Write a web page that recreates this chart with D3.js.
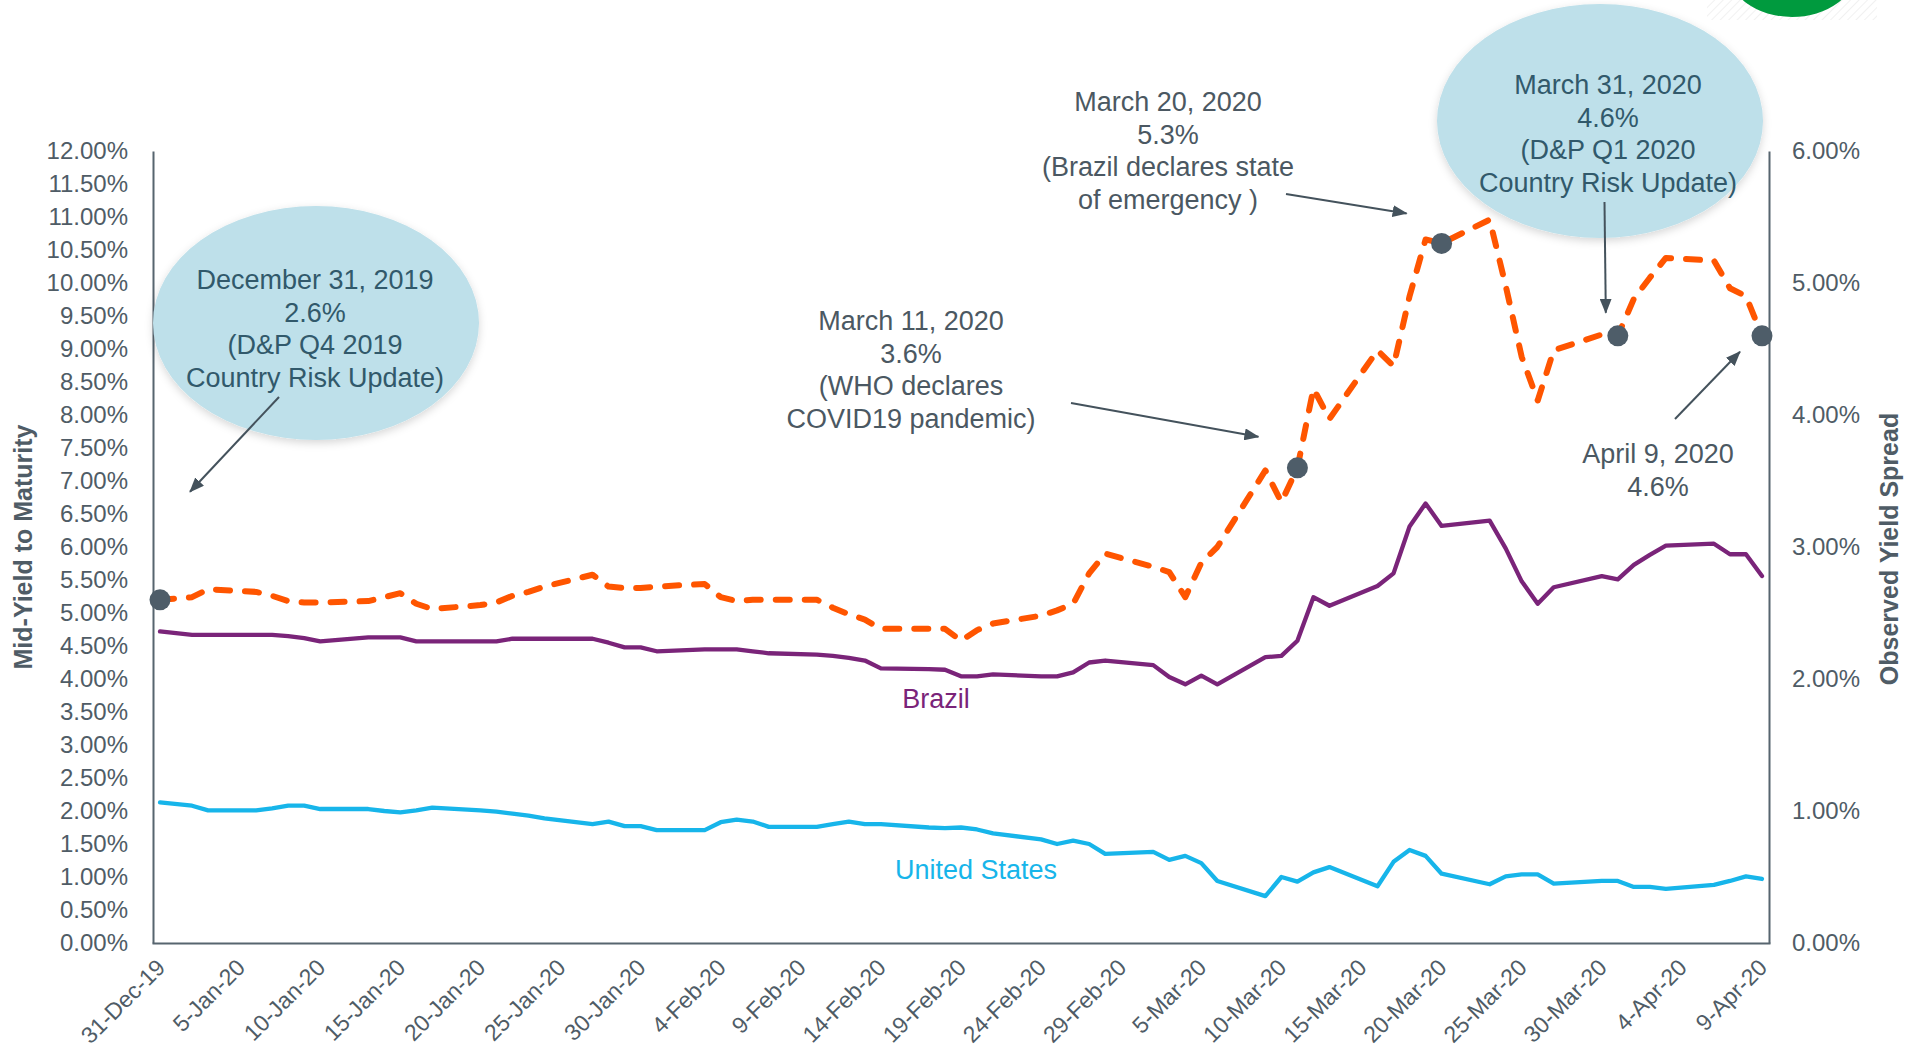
<!DOCTYPE html>
<html>
<head>
<meta charset="utf-8">
<script src="https://cdn.jsdelivr.net/npm/d3@7"></script>
<style>
  body { margin: 0; background: #ffffff; }
  svg { display: block; font-family: "Liberation Sans", Arial, sans-serif; }
</style>
</head>
<body>
<svg id="chart" width="1911" height="1050"></svg>
<script>
// ---- data -------------------------------------------------------------
const tradeDates = [
  "2019-12-31",
  "2020-01-02","2020-01-03",
  "2020-01-06","2020-01-07","2020-01-08","2020-01-09","2020-01-10",
  "2020-01-13","2020-01-14","2020-01-15","2020-01-16","2020-01-17",
  "2020-01-20","2020-01-21","2020-01-22","2020-01-23","2020-01-24",
  "2020-01-27","2020-01-28","2020-01-29","2020-01-30","2020-01-31",
  "2020-02-03","2020-02-04","2020-02-05","2020-02-06","2020-02-07",
  "2020-02-10","2020-02-11","2020-02-12","2020-02-13","2020-02-14",
  "2020-02-17","2020-02-18","2020-02-19","2020-02-20","2020-02-21",
  "2020-02-24","2020-02-25","2020-02-26","2020-02-27","2020-02-28",
  "2020-03-02","2020-03-03","2020-03-04","2020-03-05","2020-03-06",
  "2020-03-09","2020-03-10","2020-03-11","2020-03-12","2020-03-13",
  "2020-03-16","2020-03-17","2020-03-18","2020-03-19","2020-03-20",
  "2020-03-23","2020-03-24","2020-03-25","2020-03-26","2020-03-27",
  "2020-03-30","2020-03-31","2020-04-01","2020-04-02","2020-04-03",
  "2020-04-06","2020-04-07","2020-04-08","2020-04-09"
];

// Brazil mid-yield to maturity (%), left axis
const brazilYield = [
  4.72,
  4.67, 4.67,
  4.67, 4.67, 4.65, 4.62, 4.57,
  4.63, 4.63, 4.63, 4.57, 4.57,
  4.57, 4.57, 4.61, 4.61, 4.61,
  4.61, 4.55, 4.48, 4.48, 4.42,
  4.45, 4.45, 4.45, 4.42, 4.39,
  4.37, 4.35, 4.32, 4.28, 4.16,
  4.15, 4.14, 4.04, 4.04, 4.07,
  4.04, 4.04, 4.10, 4.25, 4.28,
  4.21, 4.03, 3.92, 4.05, 3.92,
  4.33, 4.35, 4.58, 5.24, 5.11,
  5.41, 5.60, 6.31, 6.66, 6.32,
  6.40, 5.98, 5.48, 5.14, 5.39,
  5.56, 5.51, 5.73, 5.88, 6.02,
  6.05, 5.89, 5.89, 5.56
];

// United States mid-yield to maturity (%), left axis
const usYield = [
  2.13,
  2.08, 2.01,
  2.01, 2.04, 2.08, 2.08, 2.03,
  2.03, 2.00, 1.98, 2.01, 2.05,
  2.01, 1.99, 1.96, 1.93, 1.89,
  1.80, 1.84, 1.77, 1.77, 1.71,
  1.71, 1.83, 1.87, 1.84, 1.76,
  1.76, 1.80, 1.84, 1.80, 1.80,
  1.75, 1.74, 1.75, 1.72, 1.66,
  1.57, 1.50, 1.55, 1.50, 1.35,
  1.38, 1.26, 1.32, 1.21, 0.94,
  0.71, 1.00, 0.93, 1.07, 1.15,
  0.86, 1.23, 1.41, 1.32, 1.05,
  0.89, 1.01, 1.04, 1.04, 0.90,
  0.94, 0.94, 0.85, 0.85, 0.82,
  0.88, 0.94, 1.01, 0.97
];

// Observed yield spread (%), right axis
const observedSpread = [
  2.60,
  2.62, 2.68,
  2.66, 2.63, 2.59, 2.58, 2.58,
  2.59, 2.62, 2.65, 2.57, 2.53,
  2.56, 2.58, 2.63, 2.66, 2.70,
  2.79, 2.70, 2.69, 2.69, 2.70,
  2.72, 2.62, 2.59, 2.60, 2.60,
  2.60, 2.54, 2.49, 2.45, 2.38,
  2.38, 2.38, 2.29, 2.37, 2.42,
  2.48, 2.52, 2.57, 2.80, 2.95,
  2.85, 2.81, 2.62, 2.88, 3.00,
  3.58, 3.34, 3.60, 4.20, 3.97,
  4.49, 4.37, 4.90, 5.33, 5.30,
  5.48, 4.98, 4.44, 4.11, 4.49,
  4.61, 4.60, 4.88, 5.04, 5.19,
  5.17, 4.96, 4.90, 4.60
];

// Highlighted dates on the spread series
const markedDates = ["2019-12-31", "2020-03-11", "2020-03-20", "2020-03-31", "2020-04-09"];

// Axis ticks
const leftTicks = [0, 0.5, 1, 1.5, 2, 2.5, 3, 3.5, 4, 4.5, 5, 5.5, 6, 6.5, 7, 7.5, 8, 8.5, 9, 9.5, 10, 10.5, 11, 11.5, 12];
const rightTicks = [0, 1, 2, 3, 4, 5, 6];
const xTickDates = [
  "2019-12-31","2020-01-05","2020-01-10","2020-01-15","2020-01-20","2020-01-25","2020-01-30",
  "2020-02-04","2020-02-09","2020-02-14","2020-02-19","2020-02-24","2020-02-29",
  "2020-03-05","2020-03-10","2020-03-15","2020-03-20","2020-03-25","2020-03-30",
  "2020-04-04","2020-04-09"
];

// Callout texts
const bubbleNotes = [
  { date: "2019-12-31", lines: ["December 31, 2019", "2.6%", "(D&P Q4 2019", "Country Risk Update)"] },
  { date: "2020-03-31", lines: ["March 31, 2020", "4.6%", "(D&P Q1 2020", "Country Risk Update)"] }
];
const plainNotes = [
  { date: "2020-03-20", lines: ["March 20, 2020", "5.3%", "(Brazil declares state", "of emergency )"] },
  { date: "2020-03-11", lines: ["March 11, 2020", "3.6%", "(WHO declares", "COVID19 pandemic)"] },
  { date: "2020-04-09", lines: ["April 9, 2020", "4.6%"] }
];

// ---- layout -----------------------------------------------------------
const plot = { left: 152, right: 1770, top: 151, bottom: 943 };
const col = {
  axis: "#57656f", tick: "#4f5c66", brazil: "#7a2479", us: "#17b5ea",
  spread: "#ff5500", dot: "#4e5d69", bubble: "#bee0ea", bubbleText: "#31596b",
  note: "#4b5862", arrow: "#44525c"
};
const bubbleLayout = [
  { cx: 316, cy: 323, rx: 163, ry: 117, tx: 315, ty: 289, arrowFrom: [279, 397], tipOffset: [30, -108] },
  { cx: 1600, cy: 121, rx: 163, ry: 117, tx: 1608, ty: 94, arrowFrom: [1604.5, 202], tipOffset: [-12, -23] }
];
const plainLayout = [
  { tx: 1168, ty: 111, arrowFrom: [1286, 194], tipOffset: [-35, -30] },
  { tx: 911, ty: 330, arrowFrom: [1071, 403], tipOffset: [-39, -31] },
  { tx: 1658, ty: 463, arrowFrom: [1675, 419], tipOffset: [-22, 16] }
];
const lineGap = 32.5;

// ---- scales -----------------------------------------------------------
const parse = d3.utcParse("%Y-%m-%d");
const dates = tradeDates.map(parse);
const x = d3.scaleUtc()
  .domain([d3.utcHour.offset(dates[0], -12), d3.utcHour.offset(dates[dates.length - 1], 12)])
  .range([plot.left, plot.right]);
const yL = d3.scaleLinear().domain([0, 12]).range([plot.bottom, plot.top]);
const yR = d3.scaleLinear().domain([0, 6]).range([plot.bottom, plot.top]);

const svg = d3.select("#chart");
const defs = svg.append("defs");

defs.append("filter").attr("id", "bubbleShadow")
  .attr("x", "-20%").attr("y", "-20%").attr("width", "140%").attr("height", "140%")
  .append("feDropShadow")
  .attr("dx", 0).attr("dy", 3).attr("stdDeviation", 4)
  .attr("flood-color", "#000").attr("flood-opacity", 0.16);

defs.append("marker").attr("id", "head")
  .attr("viewBox", "0 -6 15 12").attr("refX", 14).attr("refY", 0)
  .attr("markerWidth", 15).attr("markerHeight", 12)
  .attr("markerUnits", "userSpaceOnUse").attr("orient", "auto")
  .append("path").attr("d", "M0,-6L15,0L0,6Z").attr("fill", col.arrow);

const hatch = defs.append("pattern").attr("id", "hatch")
  .attr("patternUnits", "userSpaceOnUse").attr("width", 6).attr("height", 6)
  .attr("patternTransform", "rotate(45)");
hatch.append("line").attr("x1", 0).attr("y1", 0).attr("x2", 0).attr("y2", 6)
  .attr("stroke", "#ececec").attr("stroke-width", 1.5);

// corner badge
svg.append("rect").attr("x", 1707).attr("y", 0).attr("width", 170).attr("height", 20).attr("fill", "url(#hatch)");
svg.append("ellipse").attr("cx", 1792).attr("cy", -30).attr("rx", 64).attr("ry", 47).attr("fill", "#009a3e");

// ---- axes -------------------------------------------------------------
function styleAxis(g, size) {
  g.attr("font-family", "'Liberation Sans', Arial, sans-serif").attr("font-size", size || 24);
  g.select(".domain").attr("stroke", col.axis).attr("stroke-width", 2);
  g.selectAll(".tick line").remove();
  g.selectAll(".tick text").attr("fill", col.tick);
}
const pct2 = d => d3.format(".2f")(d) + "%";

svg.append("g").attr("transform", `translate(${plot.left + 1},0)`)
  .call(d3.axisLeft(yL).tickValues(leftTicks).tickFormat(pct2).tickSize(0).tickPadding(25))
  .call(styleAxis);

svg.append("g").attr("transform", `translate(${plot.right - 1},0)`)
  .call(d3.axisRight(yR).tickValues(rightTicks).tickFormat(pct2).tickSize(0).tickPadding(23))
  .call(styleAxis);

const xAxis = svg.append("g").attr("transform", `translate(0,${plot.bottom})`)
  .call(d3.axisBottom(x).tickValues(xTickDates.map(parse)).tickFormat(d3.utcFormat("%-d-%b-%y")).tickSize(0))
  .call(styleAxis, 23);
xAxis.selectAll(".tick text")
  .attr("x", 0).attr("y", 0).attr("dy", 0)
  .attr("text-anchor", "end")
  .attr("transform", "translate(6,26) rotate(-45)");

// axis titles
svg.append("text").attr("transform", "translate(32,547) rotate(-90)")
  .attr("text-anchor", "middle").attr("font-size", 25).attr("font-weight", "bold")
  .attr("fill", col.tick).text("Mid-Yield to Maturity");
svg.append("text").attr("transform", "translate(1898,549) rotate(-90)")
  .attr("text-anchor", "middle").attr("font-size", 25).attr("font-weight", "bold")
  .attr("fill", col.tick).text("Observed Yield Spread");

// ---- series -----------------------------------------------------------
const rows = dates.map((d, i) => ({ d, br: brazilYield[i], us: usYield[i], sp: observedSpread[i] }));

svg.append("path").datum(rows)
  .attr("fill", "none").attr("stroke", col.brazil).attr("stroke-width", 4.3)
  .attr("stroke-linejoin", "round").attr("stroke-linecap", "round")
  .attr("d", d3.line().x(r => x(r.d)).y(r => yL(r.br)));

svg.append("path").datum(rows)
  .attr("fill", "none").attr("stroke", col.us).attr("stroke-width", 4.3)
  .attr("stroke-linejoin", "round").attr("stroke-linecap", "round")
  .attr("d", d3.line().x(r => x(r.d)).y(r => yL(r.us)));

svg.append("path").datum(rows)
  .attr("fill", "none").attr("stroke", col.spread).attr("stroke-width", 6)
  .attr("stroke-linejoin", "round").attr("stroke-linecap", "round")
  .attr("stroke-dasharray", "14,15")
  .attr("d", d3.line().x(r => x(r.d)).y(r => yR(r.sp)));

const markedRows = markedDates.map(s => rows[tradeDates.indexOf(s)]);
svg.append("g").selectAll("circle").data(markedRows).join("circle")
  .attr("cx", r => x(r.d)).attr("cy", r => yR(r.sp)).attr("r", 10.5)
  .attr("fill", col.dot);

// series labels
svg.append("text").attr("x", 936).attr("y", 708).attr("text-anchor", "middle")
  .attr("font-size", 27).attr("fill", col.brazil).text("Brazil");
svg.append("text").attr("x", 976).attr("y", 879).attr("text-anchor", "middle")
  .attr("font-size", 27).attr("fill", col.us).text("United States");

// ---- callouts ---------------------------------------------------------
function pointFor(dateStr) {
  const r = rows[tradeDates.indexOf(dateStr)];
  return [x(r.d), yR(r.sp)];
}
function drawLines(g, lines, tx, ty, fill) {
  const t = g.append("text").attr("text-anchor", "middle").attr("font-size", 27).attr("fill", fill);
  lines.forEach((s, i) => t.append("tspan").attr("x", tx).attr("y", ty + i * lineGap).text(s));
}
function drawArrow(g, from, dateStr, off) {
  const p = pointFor(dateStr);
  g.append("line")
    .attr("x1", from[0]).attr("y1", from[1])
    .attr("x2", p[0] + off[0]).attr("y2", p[1] + off[1])
    .attr("stroke", col.arrow).attr("stroke-width", 2)
    .attr("marker-end", "url(#head)");
}

const notes = svg.append("g");
bubbleNotes.forEach((n, i) => {
  const L = bubbleLayout[i];
  notes.append("ellipse").attr("cx", L.cx).attr("cy", L.cy).attr("rx", L.rx).attr("ry", L.ry)
    .attr("fill", col.bubble).attr("filter", "url(#bubbleShadow)");
  drawLines(notes, n.lines, L.tx, L.ty, col.bubbleText);
  drawArrow(notes, L.arrowFrom, n.date, L.tipOffset);
});
plainNotes.forEach((n, i) => {
  const L = plainLayout[i];
  drawLines(notes, n.lines, L.tx, L.ty, col.note);
  drawArrow(notes, L.arrowFrom, n.date, L.tipOffset);
});
</script>
</body>
</html>
